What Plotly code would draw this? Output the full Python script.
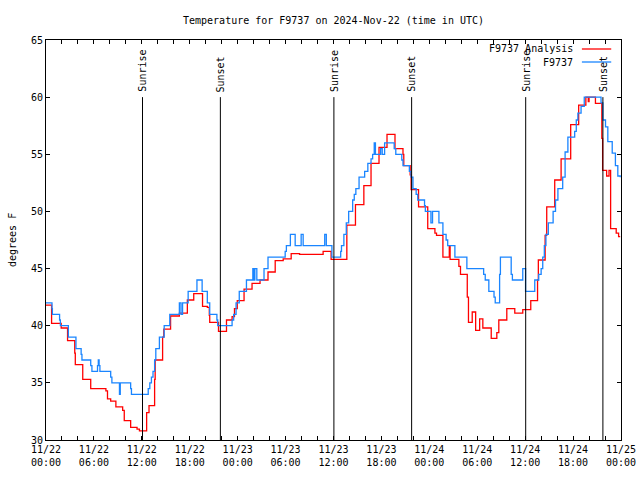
import plotly.graph_objects as go
import pandas as pd

# ---------------- data ----------------
start_time = "2024-11-22 00:00"

# F9737 Analysis (red): hours since start, degrees F
analysis_hours = [0.0, 0.7, 1.9, 2.7, 3.6, 3.67, 4.6, 5.6, 7.5, 7.7, 8.1, 8.75, 9.6, 9.8,
                  10.6, 11.4, 11.7, 12.6, 12.9, 13.6, 13.67, 14.6, 14.75, 15.6, 16.7, 17.7,
                  18.5, 19.6, 20.2, 20.45, 20.5, 21.6, 22.6, 23.3, 23.6, 23.95, 24.8, 25.8,
                  26.8, 27.8, 28.7, 29.7, 30.7, 31.75, 34.7, 35.7, 37.67, 38.75, 39.8, 40.7,
                  41.7, 42.7, 43.7, 44.7, 44.8, 45.6, 45.72, 46.65, 47.8, 48.7, 48.9, 49.7,
                  50.5, 50.6, 51.7, 51.9, 52.75, 52.9, 53.37, 53.8, 54.3, 54.7, 55.75, 56.45,
                  56.7, 57.7, 58.7, 59.7, 60.7, 61.55, 61.65, 62.5, 62.7, 63.7, 64.5, 65.7,
                  66.7, 67.6, 67.9, 68.0, 68.8, 69.6, 69.7, 70.2, 70.5, 70.7, 71.4, 71.7, 71.9]
analysis_temps = [41.8, 40.2, 39.8, 38.7, 37.6, 36.6, 35.3, 34.5, 34.3, 33.6, 33.4, 32.9, 32.6, 31.7,
                  31.1, 30.95, 30.8, 32.4, 33.0, 35.3, 37.0, 39.0, 39.7, 40.85, 41.1, 42.25,
                  42.8, 41.7, 41.6, 40.9, 40.3, 39.5, 40.5, 40.8, 41.5, 42.2, 43.2, 43.7,
                  44.0, 44.7, 45.7, 45.85, 46.3, 46.25, 46.5, 45.8, 48.8, 50.6, 52.25, 54.2,
                  55.6, 56.75, 55.5, 55.0, 54.0, 53.2, 51.9, 50.4, 48.5, 48.1, 47.9, 46.0,
                  47.0, 45.8, 45.2, 44.5, 42.5, 40.3, 41.2, 39.6, 40.6, 39.8, 38.9, 39.4,
                  40.5, 41.5, 41.1, 41.4, 42.2, 44.0, 45.75, 47.9, 50.4, 52.75, 54.6, 57.6,
                  59.3, 60.0, 59.6, 60.0, 59.45, 56.4, 53.6, 53.1, 53.6, 48.5, 48.1, 47.8, 47.8]

# F9737 observations (blue)
obs_hours = [0.0, 0.75, 0.8, 1.7, 1.8, 2.8, 3.75, 4.4, 4.5, 5.6, 5.75, 6.45, 6.55, 6.65, 6.75,
             8.1, 8.25, 9.2, 9.3, 10.6, 10.7, 12.8, 13.0, 13.2, 13.4, 13.6, 13.75, 14.2,
             14.8, 15.5, 16.7, 16.9, 17.1, 17.8, 18.9, 19.55, 20.2, 20.5, 21.4, 21.5, 23.3,
             23.5, 23.8, 24.2, 25.1, 25.9, 26.05, 26.15, 26.4, 27.3, 27.8, 29.95, 30.1, 30.6,
             31.2, 31.95, 32.2, 34.9, 35.1, 35.8, 36.9, 37.0, 37.3, 37.6, 37.9, 38.4, 38.6,
             38.8, 39.2, 39.9, 40.3, 40.7, 40.9, 41.1, 41.25, 41.9, 42.1, 42.4, 43.6, 43.8,
             44.55, 44.7, 45.5, 45.7, 45.95, 46.35, 46.55, 47.4, 47.5, 48.2, 48.4, 49.2, 49.7,
             50.1, 50.3, 51.2, 52.7, 54.8, 55.0, 55.45, 56.1, 56.25, 56.8, 56.9, 57.2, 58.25,
             58.4, 59.7, 60.05, 61.2, 61.7, 62.0, 62.2, 62.4, 62.6, 62.9, 63.5, 63.8, 64.1,
             64.7, 65.0, 65.35, 66.2, 66.4, 66.6, 67.0, 67.4, 69.4, 69.5, 69.73, 70.06,
             70.35, 70.9, 71.3, 71.6, 71.9]
obs_temps = [42.0, 41.5, 41.0, 40.5, 40.0, 39.0, 38.0, 37.5, 37.0, 36.5, 36.0, 36.5, 37.0, 36.5, 36.0,
             35.5, 35.0, 34.0, 35.0, 34.5, 34.0, 34.5, 35.0, 35.5, 36.0, 37.0, 38.0, 39.0,
             40.0, 41.0, 42.0, 41.0, 42.0, 43.0, 44.0, 43.0, 42.0, 41.0, 40.5, 40.0, 40.5,
             41.0, 42.0, 43.0, 44.0, 45.0, 44.0, 45.0, 44.0, 45.0, 46.0, 46.5, 47.0, 48.0,
             47.0, 48.0, 47.0, 48.0, 47.0, 46.0, 46.5, 47.0, 48.0, 49.0, 50.0, 51.0, 51.5,
             52.0, 53.0, 53.5, 54.2, 54.6, 55.0, 56.0, 55.0, 55.5, 55.0, 56.0, 55.5, 55.0,
             54.5, 54.0, 53.5, 53.0, 52.0, 51.5, 51.0, 50.5, 50.0, 49.0, 50.0, 49.0, 48.0,
             47.5, 47.0, 46.0, 45.0, 44.5, 44.0, 43.0, 42.5, 42.0, 44.5, 46.0, 46.0, 44.5,
             44.0, 45.0, 43.0, 44.0, 44.5, 45.0, 46.0, 47.0, 48.0, 49.0, 50.0, 51.0, 52.0,
             53.0, 55.2, 56.5, 57.0, 58.0, 58.6, 59.2, 60.0, 60.0, 59.5, 58.0, 57.4,
             56.1, 55.1, 54.0, 53.1, 53.0]

event_names = ["Sunrise", "Sunset", "Sunrise", "Sunset", "Sunrise", "Sunset"]
event_times = ["2024-11-22 12:05", "2024-11-22 21:50", "2024-11-23 12:03",
               "2024-11-23 21:47", "2024-11-24 12:04", "2024-11-24 21:44"]
event_top = 60

tick_times = pd.date_range("2024-11-22 00:00", "2024-11-25 00:00", freq="2h")
tick_labels = ["11/22<br>00:00", "11/22<br>06:00", "11/22<br>12:00", "11/22<br>18:00",
               "11/23<br>00:00", "11/23<br>06:00", "11/23<br>12:00", "11/23<br>18:00",
               "11/24<br>00:00", "11/24<br>06:00", "11/24<br>12:00", "11/24<br>18:00",
               "11/25<br>00:00"]

# ---------------- figure ----------------
t0 = pd.Timestamp(start_time)
to_time = lambda hrs: [t0 + pd.Timedelta(hours=h) for h in hrs]

FONT = "DejaVu Sans Mono"
RED = "#ff0000"
BLUE = "#1a85ff"

fig = go.Figure()
fig.add_trace(go.Scatter(x=to_time(analysis_hours), y=analysis_temps, mode="lines",
                         line=dict(color=RED, width=1.3, shape="hv"),
                         name="F9737 Analysis"))
fig.add_trace(go.Scatter(x=to_time(obs_hours), y=obs_temps, mode="lines",
                         line=dict(color=BLUE, width=1.3, shape="hv"),
                         name="F9737"))

for name, t in zip(event_names, event_times):
    fig.add_shape(type="line", x0=t, x1=t, y0=30, y1=event_top, xref="x", yref="y",
                  line=dict(color="black", width=1), layer="above")
    fig.add_annotation(x=t, y=event_top, xref="x", yref="y", text=name, textangle=-90,
                       showarrow=False, xanchor="center", yanchor="bottom", yshift=3,
                       font=dict(family=FONT, size=10, color="black"))

# manual gnuplot-style legend (text left of line sample)
legend_rows = [("F9737 Analysis", RED, 0.9775), ("F9737", BLUE, 0.945)]
for label, col, yy in legend_rows:
    fig.add_annotation(x=0.92, y=yy, xref="paper", yref="paper", text=label,
                       showarrow=False, xanchor="right", yanchor="middle",
                       font=dict(family=FONT, size=10, color="black"))
    fig.add_shape(type="line", x0=0.932, x1=0.983, y0=yy, y1=yy, xref="paper", yref="paper",
                  line=dict(color=col, width=1.3))

fig.add_annotation(x=0, y=0.5, xref="paper", yref="paper", text="degrees F", textangle=-90,
                   showarrow=False, xanchor="center", yanchor="middle", xshift=-34,
                   font=dict(family=FONT, size=10, color="black"))

ticktext = []
for i, tt in enumerate(tick_times):
    ticktext.append(tick_labels[i // 3] if i % 3 == 0 else "")

fig.update_layout(
    width=640, height=480,
    margin=dict(l=46, r=19, t=40, b=40, autoexpand=False),
    paper_bgcolor="white", plot_bgcolor="white",
    showlegend=False,
    title=dict(text="Temperature for F9737 on 2024-Nov-22 (time in UTC)",
               x=0.5, xref="paper", xanchor="center",
               y=1 - 20 / 480, yref="container", yanchor="middle",
               font=dict(family=FONT, size=10, color="black")),
    font=dict(family=FONT, size=10, color="black"),
)
fig.update_xaxes(range=[tick_times[0], tick_times[-1]], tickvals=list(tick_times),
                 ticktext=ticktext, ticks="inside", ticklen=4, tickcolor="black",
                 showline=True, linecolor="black", linewidth=1, mirror="ticks",
                 showgrid=False, zeroline=False, automargin=False,
                 tickfont=dict(family=FONT, size=10, color="black"))
fig.update_yaxes(range=[30, 65], dtick=5, tick0=30, ticks="inside", ticklen=4,
                 tickcolor="black", showline=True, linecolor="black", linewidth=1,
                 mirror="ticks", showgrid=False, zeroline=False, automargin=False,
                 tickfont=dict(family=FONT, size=10, color="black"))

fig.write_html("out.html", config={"displayModeBar": False},
               post_script="document.body.style.margin='0px';document.body.style.overflow='hidden';")
